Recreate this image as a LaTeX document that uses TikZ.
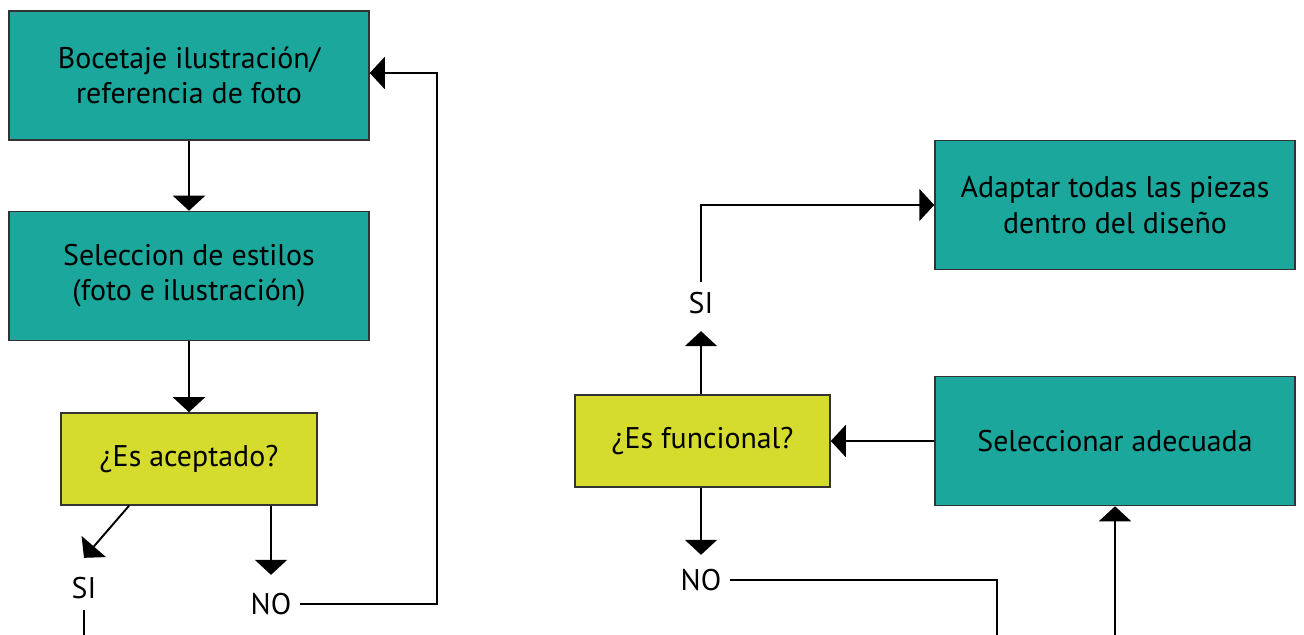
\documentclass[tikz,border=0pt]{standalone}
\usepackage{fontspec}
\setmainfont{PT Sans}
\usetikzlibrary{arrows.meta}

\definecolor{verdeazul}{RGB}{27,167,156}
\definecolor{amarillo}{RGB}{213,220,45}

\tikzset{
    caja/.style={draw=black!80, line width=0.9pt, fill=verdeazul,
        minimum width=7.2cm, minimum height=2.58cm, align=center,
        font=\fontsize{17}{20}\selectfont},
    pregunta/.style={draw=black!80, line width=0.9pt, fill=amarillo,
        minimum width=5.12cm, minimum height=1.84cm,
        font=\fontsize{17}{20}\selectfont},
    etiqueta/.style={inner sep=0pt, font=\fontsize{17}{20}\selectfont},
    flecha/.style={-{Triangle[width=0.64cm, length=0.3cm]}, line width=1.1pt},
    linea/.style={line width=1.1pt}
}

\begin{document}
\begin{tikzpicture}[x=0.02cm, y=-0.02cm]
    \useasboundingbox (0,0) rectangle (1304,635);
    % Columna izquierda
    \node[caja] (boceto) at (189,75.5) {Bocetaje ilustración/\\referencia de foto};
    \node[caja] (estilos) at (189,276) {Seleccion de estilos\\(foto e ilustración)};
    \node[pregunta] (aceptado) at (189,459) {¿Es aceptado?};
    \node[etiqueta] (si1) at (84,588) {SI};
    \node[etiqueta] (no1) at (271,604) {NO};
    \coordinate (vuelta) at (437,73);
    \coordinate (fin1) at (84,640);

    \draw[flecha] (boceto) -- (estilos);
    \draw[flecha] (estilos) -- (aceptado);
    \draw[flecha] ([xshift=-1.2cm]aceptado.south) -- ([yshift=0.38cm]si1.north);
    \draw[flecha] (aceptado.south -| no1) -- ([yshift=0.36cm]no1.north);
    \draw[linea] ([yshift=-0.22cm]si1.south) -- (fin1);
    \draw[flecha] ([xshift=0.16cm]no1.east) -| (vuelta) -- (vuelta -| boceto.east);

    % Columna derecha
    \node[caja] (adaptar) at (1115,205) {Adaptar todas las piezas\\dentro del diseño};
    \node[caja] (seleccionar) at (1115,441) {Seleccionar adecuada};
    \node[pregunta, minimum width=5.1cm] (funcional) at (702.5,441) {¿Es funcional?};
    \node[etiqueta] (si2) at (701,303) {SI};
    \node[etiqueta] (no2) at (701,580) {NO};
    \coordinate (fin2) at (997,640);
    \coordinate (fin3) at (1115,640);

    \draw[flecha] (seleccionar) -- (funcional);
    \draw[flecha] (funcional.north -| si2) -- ([yshift=-0.34cm]si2.south);
    \draw[flecha] ([yshift=0.2cm]si2.north) |- (adaptar.west);
    \draw[flecha] (funcional.south -| no2) -- ([yshift=0.28cm]no2.north);
    \draw[linea] ([xshift=0.16cm]no2.east) -| (fin2);
    \draw[flecha] (fin3) -- (seleccionar.south);
\end{tikzpicture}
\end{document}
